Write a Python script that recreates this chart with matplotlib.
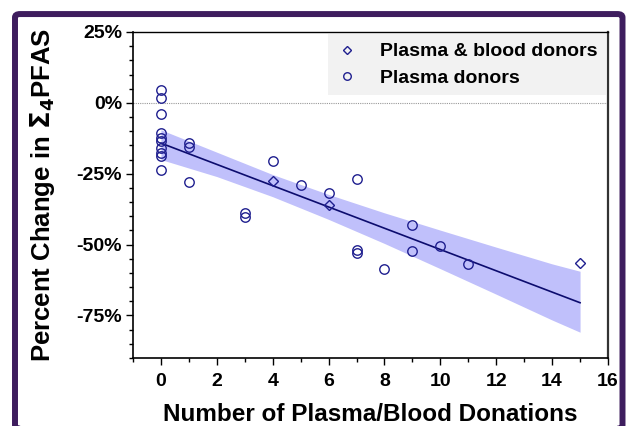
import numpy as np
import matplotlib
matplotlib.use('Agg')
import matplotlib.pyplot as plt
from matplotlib.patches import FancyBboxPatch
from matplotlib.ticker import MultipleLocator, FuncFormatter

plt.rcParams['font.family'] = ['Liberation Sans', 'DejaVu Sans']
plt.rcParams['font.weight'] = 'bold'

# plasma donors (circles): donations, % change
plasma_x = [0, 0, 0, 0, 0, 0, 0, 0, 0, 0,
            1, 1, 1, 3, 3, 4, 5, 6, 7, 7, 7, 8, 9, 9, 10, 11]
plasma_y = [4.5, 1.7, -3.9, -10.7, -12.4, -13.3, -15.9, -17.7, -18.9, -23.6,
            -14.2, -15.6, -27.8, -38.8, -40.4, -20.5, -28.9, -31.8,
            -26.8, -51.8, -52.9, -58.6, -43.2, -52.1, -50.4, -57.0]

# plasma & blood donors (diamonds)
both_x = [4, 6, 15]
both_y = [-27.7, -36.2, -56.4]

# fitted line and its confidence band
fit_x = [0, 15]
fit_y = [-14.2, -70.5]
band_x = [0, 2, 4, 6, 8, 10, 12, 14, 15]
band_hi = [-9.5, -17.4, -25.3, -32.3, -38.8, -44.9, -50.9, -56.8, -59.4]
band_lo = [-20.0, -26.0, -33.1, -41.1, -49.6, -58.5, -67.5, -76.6, -80.9]

navy = '#1f1f8f'

fig = plt.figure(figsize=(6.3, 4.26), dpi=100)
ax = fig.add_axes([133 / 630, 1 - 358 / 426, 475 / 630, 326 / 426])

ax.fill_between(band_x, band_lo, band_hi, color='#c0c0fb', lw=0, zorder=1)
ax.plot(fit_x, fit_y, color='#0c0c6e', lw=1.2, zorder=2)
ax.axhline(0, color='#999999', lw=0.8, ls=(0, (1, 1)), zorder=0)

ax.plot(both_x, both_y, 'D', ms=5.5, mfc='none', mec=navy, mew=1.0,
        label='Plasma & blood donors', zorder=3)
ax.plot(plasma_x, plasma_y, 'o', ms=6.8, mfc='none', mec=navy, mew=1.0,
        label='Plasma donors', zorder=3)

ax.set_xlim(-1, 16)
ax.set_ylim(-90, 25)
ax.xaxis.set_minor_locator(MultipleLocator(1))
ax.yaxis.set_minor_locator(MultipleLocator(5))
ax.set_xticks(range(0, 17, 2))
ax.set_yticks([25, 0, -25, -50, -75])
ax.yaxis.set_major_formatter(FuncFormatter(lambda v, p: '%d%%' % v))
ax.tick_params(which='major', length=5, width=1, labelsize=14)
ax.tick_params(axis='x', which='major', pad=6)
ax.tick_params(axis='y', which='major', pad=3)
ax.tick_params(which='minor', length=3, width=1)
for lab in ax.get_xticklabels() + ax.get_yticklabels():
    lab.set_fontweight('bold')

for s in ['left', 'bottom']:
    ax.spines[s].set_linewidth(1.2)
ax.spines['top'].set_linewidth(1.0)
ax.spines['right'].set_color('#333333')
ax.spines['right'].set_linewidth(1.6)

ax.set_xlabel('Number of Plasma/Blood Donations', fontsize=17.5,
              fontweight='bold', labelpad=9)
ax.set_ylabel(r'Percent Change in $\mathbf{\Sigma_4}$PFAS', fontsize=18.5,
              fontweight='bold')
ax.yaxis.set_label_coords(-0.16, 0.5)

leg = ax.legend(loc='upper right', bbox_to_anchor=(1.0, 1.0), borderaxespad=0.1,
                frameon=True, fancybox=False, fontsize=14, markerscale=0.8,
                handletextpad=1.2, handlelength=1.0, borderpad=0.45,
                labelspacing=0.45)
leg.get_frame().set_facecolor('#f2f2f2')
leg.get_frame().set_edgecolor('none')
leg.get_frame().set_alpha(1)
for t in leg.get_texts():
    t.set_fontweight('bold')

# purple frame round the whole figure
frame = FancyBboxPatch((15 / 630, -0.006), 607.5 / 630, 0.973,
                       boxstyle='round,pad=0,rounding_size=0.008',
                       transform=fig.transFigure, fill=False,
                       ec='#3e1d5e', lw=4.3, clip_on=False)
fig.patches.append(frame)

fig.savefig('out.png', dpi=100)
